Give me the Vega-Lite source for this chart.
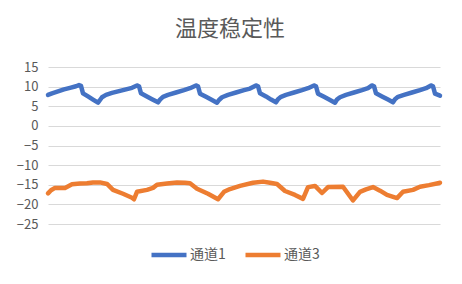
{
  "$schema": "https://vega.github.io/schema/vega-lite/v6.json",
  "width": 392,
  "height": 157,
  "autosize": {"type": "none"},
  "padding": {"left": 48, "top": 67, "right": 22, "bottom": 60},
  "background": "white",
  "title": {
    "text": "温度稳定性",
    "font": "Noto Sans CJK SC",
    "fontSize": 22,
    "fontWeight": "normal",
    "color": "#595959",
    "anchor": "middle",
    "baseline": "bottom",
    "offset": -2,
    "dx": -14
  },
  "data": {
    "values": [
      {"x": 0, "value": 7.9, "series": "通道1"},
      {"x": 4, "value": 8.3, "series": "通道1"},
      {"x": 10, "value": 8.8, "series": "通道1"},
      {"x": 16, "value": 9.3, "series": "通道1"},
      {"x": 22, "value": 9.7, "series": "通道1"},
      {"x": 28, "value": 10.1, "series": "通道1"},
      {"x": 31, "value": 10.4, "series": "通道1"},
      {"x": 33, "value": 10.2, "series": "通道1"},
      {"x": 35, "value": 8.3, "series": "通道1"},
      {"x": 40, "value": 7.5, "series": "通道1"},
      {"x": 45, "value": 6.7, "series": "通道1"},
      {"x": 50, "value": 5.9, "series": "通道1"},
      {"x": 52, "value": 6.6, "series": "通道1"},
      {"x": 54, "value": 7.3, "series": "通道1"},
      {"x": 58, "value": 7.9, "series": "通道1"},
      {"x": 64, "value": 8.4, "series": "通道1"},
      {"x": 70, "value": 8.8, "series": "通道1"},
      {"x": 78, "value": 9.3, "series": "通道1"},
      {"x": 84, "value": 9.7, "series": "通道1"},
      {"x": 89, "value": 10.3, "series": "通道1"},
      {"x": 91, "value": 10.1, "series": "通道1"},
      {"x": 93, "value": 8.3, "series": "通道1"},
      {"x": 98, "value": 7.6, "series": "通道1"},
      {"x": 104, "value": 6.8, "series": "通道1"},
      {"x": 110, "value": 6.0, "series": "通道1"},
      {"x": 112, "value": 6.7, "series": "通道1"},
      {"x": 115, "value": 7.4, "series": "通道1"},
      {"x": 120, "value": 7.9, "series": "通道1"},
      {"x": 128, "value": 8.5, "series": "通道1"},
      {"x": 136, "value": 9.1, "series": "通道1"},
      {"x": 142, "value": 9.6, "series": "通道1"},
      {"x": 148, "value": 10.3, "series": "通道1"},
      {"x": 150, "value": 10.1, "series": "通道1"},
      {"x": 152, "value": 8.2, "series": "通道1"},
      {"x": 158, "value": 7.4, "series": "通道1"},
      {"x": 164, "value": 6.6, "series": "通道1"},
      {"x": 169, "value": 5.9, "series": "通道1"},
      {"x": 171, "value": 6.6, "series": "通道1"},
      {"x": 174, "value": 7.3, "series": "通道1"},
      {"x": 180, "value": 7.9, "series": "通道1"},
      {"x": 188, "value": 8.5, "series": "通道1"},
      {"x": 196, "value": 9.1, "series": "通道1"},
      {"x": 202, "value": 9.5, "series": "通道1"},
      {"x": 208, "value": 10.3, "series": "通道1"},
      {"x": 210, "value": 10.1, "series": "通道1"},
      {"x": 212, "value": 8.3, "series": "通道1"},
      {"x": 218, "value": 7.5, "series": "通道1"},
      {"x": 223, "value": 6.7, "series": "通道1"},
      {"x": 228, "value": 6.0, "series": "通道1"},
      {"x": 230, "value": 6.8, "series": "通道1"},
      {"x": 233, "value": 7.4, "series": "通道1"},
      {"x": 238, "value": 7.9, "series": "通道1"},
      {"x": 246, "value": 8.5, "series": "通道1"},
      {"x": 254, "value": 9.1, "series": "通道1"},
      {"x": 260, "value": 9.6, "series": "通道1"},
      {"x": 266, "value": 10.3, "series": "通道1"},
      {"x": 268, "value": 10.1, "series": "通道1"},
      {"x": 270, "value": 8.2, "series": "通道1"},
      {"x": 276, "value": 7.4, "series": "通道1"},
      {"x": 282, "value": 6.6, "series": "通道1"},
      {"x": 287, "value": 5.9, "series": "通道1"},
      {"x": 289, "value": 6.7, "series": "通道1"},
      {"x": 292, "value": 7.3, "series": "通道1"},
      {"x": 298, "value": 7.9, "series": "通道1"},
      {"x": 306, "value": 8.5, "series": "通道1"},
      {"x": 314, "value": 9.1, "series": "通道1"},
      {"x": 320, "value": 9.6, "series": "通道1"},
      {"x": 324, "value": 10.3, "series": "通道1"},
      {"x": 326, "value": 10.1, "series": "通道1"},
      {"x": 328, "value": 8.3, "series": "通道1"},
      {"x": 334, "value": 7.5, "series": "通道1"},
      {"x": 340, "value": 6.7, "series": "通道1"},
      {"x": 345, "value": 6.0, "series": "通道1"},
      {"x": 347, "value": 6.8, "series": "通道1"},
      {"x": 350, "value": 7.4, "series": "通道1"},
      {"x": 356, "value": 7.9, "series": "通道1"},
      {"x": 364, "value": 8.5, "series": "通道1"},
      {"x": 372, "value": 9.1, "series": "通道1"},
      {"x": 378, "value": 9.6, "series": "通道1"},
      {"x": 383, "value": 10.3, "series": "通道1"},
      {"x": 385, "value": 10.1, "series": "通道1"},
      {"x": 387, "value": 8.2, "series": "通道1"},
      {"x": 392, "value": 7.7, "series": "通道1"},
      {"x": 0, "value": -17.2, "series": "通道3"},
      {"x": 3, "value": -16.4, "series": "通道3"},
      {"x": 7, "value": -15.8, "series": "通道3"},
      {"x": 17, "value": -15.8, "series": "通道3"},
      {"x": 24, "value": -14.9, "series": "通道3"},
      {"x": 32, "value": -14.7, "series": "通道3"},
      {"x": 39, "value": -14.6, "series": "通道3"},
      {"x": 45, "value": -14.4, "series": "通道3"},
      {"x": 52, "value": -14.4, "series": "通道3"},
      {"x": 59, "value": -14.8, "series": "通道3"},
      {"x": 65, "value": -16.3, "series": "通道3"},
      {"x": 75, "value": -17.3, "series": "通道3"},
      {"x": 84, "value": -18.3, "series": "通道3"},
      {"x": 86, "value": -18.7, "series": "通道3"},
      {"x": 89, "value": -16.8, "series": "通道3"},
      {"x": 99, "value": -16.3, "series": "通道3"},
      {"x": 105, "value": -15.8, "series": "通道3"},
      {"x": 109, "value": -15.0, "series": "通道3"},
      {"x": 119, "value": -14.7, "series": "通道3"},
      {"x": 129, "value": -14.4, "series": "通道3"},
      {"x": 137, "value": -14.5, "series": "通道3"},
      {"x": 142, "value": -14.6, "series": "通道3"},
      {"x": 149, "value": -16.0, "series": "通道3"},
      {"x": 160, "value": -17.3, "series": "通道3"},
      {"x": 170, "value": -18.7, "series": "通道3"},
      {"x": 176, "value": -16.8, "series": "通道3"},
      {"x": 182, "value": -16.1, "series": "通道3"},
      {"x": 192, "value": -15.3, "series": "通道3"},
      {"x": 205, "value": -14.5, "series": "通道3"},
      {"x": 215, "value": -14.2, "series": "通道3"},
      {"x": 222, "value": -14.5, "series": "通道3"},
      {"x": 229, "value": -14.8, "series": "通道3"},
      {"x": 237, "value": -16.6, "series": "通道3"},
      {"x": 247, "value": -17.6, "series": "通道3"},
      {"x": 255, "value": -18.6, "series": "通道3"},
      {"x": 260, "value": -15.6, "series": "通道3"},
      {"x": 267, "value": -15.3, "series": "通道3"},
      {"x": 274, "value": -17.1, "series": "通道3"},
      {"x": 280, "value": -15.6, "series": "通道3"},
      {"x": 295, "value": -15.5, "series": "通道3"},
      {"x": 305, "value": -19.0, "series": "通道3"},
      {"x": 312, "value": -16.8, "series": "通道3"},
      {"x": 318, "value": -16.2, "series": "通道3"},
      {"x": 325, "value": -15.6, "series": "通道3"},
      {"x": 332, "value": -16.5, "series": "通道3"},
      {"x": 339, "value": -17.6, "series": "通道3"},
      {"x": 349, "value": -18.4, "series": "通道3"},
      {"x": 355, "value": -16.8, "series": "通道3"},
      {"x": 365, "value": -16.3, "series": "通道3"},
      {"x": 372, "value": -15.5, "series": "通道3"},
      {"x": 381, "value": -15.1, "series": "通道3"},
      {"x": 390, "value": -14.6, "series": "通道3"},
      {"x": 392, "value": -14.5, "series": "通道3"}
    ]
  },
  "mark": {"type": "line", "strokeWidth": 4.5, "strokeCap": "round", "strokeJoin": "round", "clip": false},
  "encoding": {
    "x": {
      "field": "x",
      "type": "quantitative",
      "scale": {"domain": [0, 392], "nice": false, "zero": false},
      "axis": null
    },
    "y": {
      "field": "value",
      "type": "quantitative",
      "scale": {"domain": [-25, 15], "nice": false},
      "axis": {
        "title": null,
        "values": [-25, -20, -15, -10, -5, 0, 5, 10, 15],
        "ticks": false,
        "domain": false,
        "labelPadding": 10,
        "labelFont": "Noto Sans CJK SC",
        "labelFontSize": 13,
        "labelColor": "#595959",
        "gridColor": "#d9d9d9",
        "gridWidth": 1
      }
    },
    "color": {
      "field": "series",
      "type": "nominal",
      "scale": {"domain": ["通道1", "通道3"], "range": ["#4472C4", "#ED7D31"]},
      "legend": {
        "title": null,
        "orient": "none",
        "direction": "horizontal",
        "legendX": 101,
        "legendY": 168,
        "symbolType": "stroke",
        "symbolSize": 1225,
        "symbolStrokeWidth": 4.5,
        "labelFont": "Noto Sans CJK SC",
        "labelFontSize": 14,
        "labelColor": "#595959",
        "labelOffset": 1,
        "columnPadding": 10
      }
    }
  },
  "config": {
    "view": {"stroke": null}
  }
}
